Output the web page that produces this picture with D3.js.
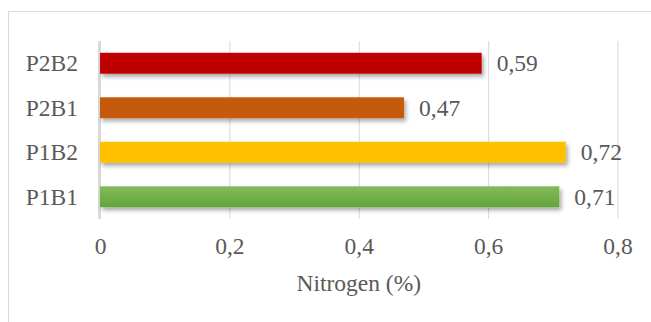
<!DOCTYPE html>
<html>
<head>
<meta charset="utf-8">
<script src="https://cdn.jsdelivr.net/npm/d3@7"></script>
<style>
  html, body { margin: 0; padding: 0; background: #fff; }
  svg { display: block; }
  text { font-family: "Liberation Serif", "Times New Roman", serif; fill: #595959; }
</style>
</head>
<body>
<svg id="chart" width="651" height="322"></svg>
<script>
// Treatments, top to bottom
const categories = ["P2B2", "P2B1", "P1B2", "P1B1"];
const nitrogen = [0.59, 0.47, 0.72, 0.71];
const barColors = ["#C00000", "#C55A11", "#FFC000", "#70AD47"];
const tickValues = [0, 0.2, 0.4, 0.6, 0.8];
const axisTitle = "Nitrogen (%)";

const svg = d3.select("#chart");
const W = 651, H = 322;
const plot = { left: 100, right: 617.5, top: 41, bottom: 219 };
const fontSize = 23.5;
const fmt = v => d3.format(".2~f")(v).replace(".", ",");

// Chart frame
svg.append("rect")
  .attr("x", 8.5).attr("y", 11.5)
  .attr("width", W).attr("height", H)
  .attr("fill", "#fff").attr("stroke", "#d9d9d9").attr("stroke-width", 1);

const defs = svg.append("defs");
defs.append("filter").attr("id", "shadow")
  .attr("x", "-10%").attr("y", "-40%").attr("width", "130%").attr("height", "200%")
  .append("feDropShadow")
  .attr("dx", 2).attr("dy", 3).attr("stdDeviation", 2)
  .attr("flood-color", "#000").attr("flood-opacity", 0.35);

const green = defs.append("linearGradient").attr("id", "greenGrad")
  .attr("x1", 0).attr("y1", 0).attr("x2", 0).attr("y2", 1);
green.append("stop").attr("offset", "0%").attr("stop-color", "#81BB5C");
green.append("stop").attr("offset", "100%").attr("stop-color", "#64A43A");

const x = d3.scaleLinear().domain([0, 0.8]).range([plot.left, plot.right]);
const y = d3.scaleBand().domain(categories)
  .range([plot.top, plot.bottom])
  .paddingInner(0.53).paddingOuter(0.265);

// Vertical gridlines
const xAxis = d3.axisBottom(x).tickValues(tickValues)
  .tickSize(-(plot.bottom - plot.top)).tickFormat(fmt).tickPadding(18);
const gx = svg.append("g")
  .attr("transform", `translate(0,${plot.bottom})`)
  .call(xAxis);
gx.select(".domain").remove();
gx.selectAll(".tick line").attr("stroke", "#d9d9d9").attr("stroke-width", 1);
gx.selectAll(".tick text")
  .attr("font-size", fontSize)
  .attr("fill", "#595959")
  .attr("font-family", "Liberation Serif, Times New Roman, serif");

// Category axis line
svg.append("line")
  .attr("x1", x(0) - 1).attr("x2", x(0) - 1)
  .attr("y1", plot.top).attr("y2", plot.bottom)
  .attr("stroke", "#d9d9d9").attr("stroke-width", 2);

// Bars
svg.append("g").selectAll("rect")
  .data(categories)
  .join("rect")
  .attr("x", x(0))
  .attr("y", d => y(d))
  .attr("width", (d, i) => x(nitrogen[i]) - x(0))
  .attr("height", y.bandwidth())
  .attr("fill", (d, i) => d === "P1B1" ? "url(#greenGrad)" : barColors[i])
  .attr("filter", "url(#shadow)");

// Value labels
svg.append("g").selectAll("text")
  .data(categories)
  .join("text")
  .attr("x", (d, i) => x(nitrogen[i]) + 15)
  .attr("y", d => y(d) + y.bandwidth() / 2)
  .attr("dy", "0.35em")
  .attr("font-size", fontSize)
  .text((d, i) => fmt(nitrogen[i]));

// Category labels
svg.append("g").selectAll("text")
  .data(categories)
  .join("text")
  .attr("x", x(0) - 22)
  .attr("y", d => y(d) + y.bandwidth() / 2)
  .attr("dy", "0.35em")
  .attr("text-anchor", "end")
  .attr("font-size", fontSize)
  .text(d => d);

// Axis title
svg.append("text")
  .attr("x", (plot.left + plot.right) / 2)
  .attr("y", 283)
  .attr("dy", "0.35em")
  .attr("text-anchor", "middle")
  .attr("font-size", fontSize)
  .text(axisTitle);
</script>
</body>
</html>
